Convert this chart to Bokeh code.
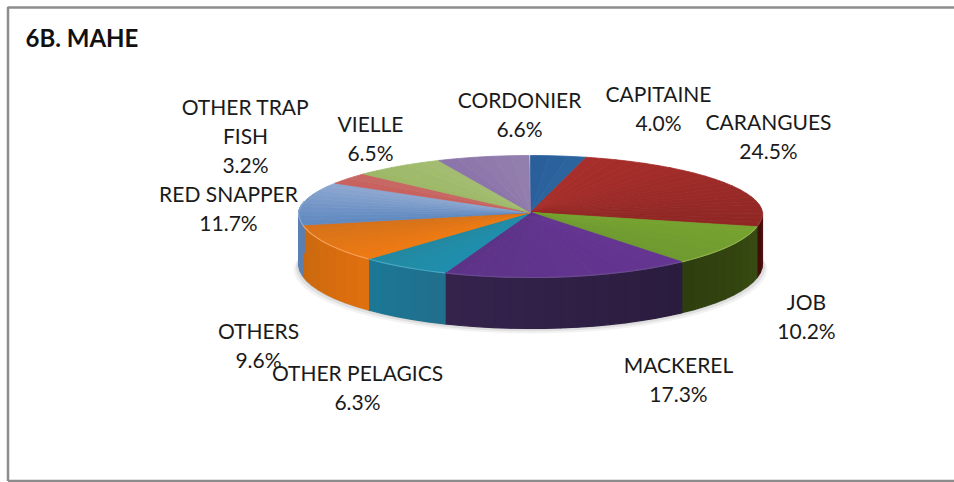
import math
from bokeh.plotting import figure
from bokeh.embed import file_html
from bokeh.resources import INLINE
from bokeh.models import ColumnDataSource, Range1d

# data
categories = ["CAPITAINE", "CARANGUES", "JOB", "MACKEREL", "OTHER PELAGICS",
              "OTHERS", "RED SNAPPER", "OTHER TRAP\nFISH", "VIELLE", "CORDONIER"]
shares = [4.0, 24.5, 10.2, 17.3, 6.3, 9.6, 11.7, 3.2, 6.5, 6.6]
title_text = "6B. MAHE"

# style
top_a = ["#2a5e9c", "#a82e2a", "#76a32f", "#653592", "#1f8fae", "#ef7a12", "#5f88c0", "#c9605c", "#9cb866", "#8b74aa"]
top_b = ["#2c659f", "#8f2725", "#6f9a30", "#5d3388", "#23889f", "#d5721a", "#8ea8d0", "#c66a66", "#a4bd72", "#9480ae"]
side_a = ["#1f4a7a", "#5a1512", "#384c12", "#2a1c3e", "#1f6e8c", "#e0700f", "#5c7fb2", "#a04a48", "#7d9550", "#6e5c8a"]
side_b = ["#1f4a7a", "#3c0d0a", "#2e3d0e", "#35234d", "#1b7896", "#c9680f", "#5c7fb2", "#a04a48", "#7d9550", "#6e5c8a"]
rim = ["#2c659f", "#a03a36", "#8fb24e", "#6b4a90", "#49a6c0", "#f4a05a", "#8ea8d0", "#c66a66", "#a4bd72", "#9480ae"]
label_x = [658, 768, 806, 678, 357, 258, 228, 245, 370, 519]
label_y = [93, 121, 301, 364, 372, 330, 193, 106, 123, 99]
LINE_GAP = 29

CX, CY, RX, RY_BACK, RY_FRONT, DEPTH = 530, 212, 232, 57, 65, 51
FONT = "Lato"
FS = "21px"


def pt(deg):
    a = math.radians(deg)
    s, c = math.sin(a), math.cos(a)
    narrow = 1 - 0.035 * max(c, 0)
    return CX + RX * s * narrow, CY - (RY_BACK if c > 0 else RY_FRONT) * c


def mix(c1, c2, t):
    v1 = [int(c1[i:i + 2], 16) for i in (1, 3, 5)]
    v2 = [int(c2[i:i + 2], 16) for i in (1, 3, 5)]
    return "#%02x%02x%02x" % tuple(round(a + (b - a) * t) for a, b in zip(v1, v2))


p = figure(width=954, height=482, x_range=Range1d(0, 954), y_range=Range1d(482, 0),
           output_backend="svg", toolbar_location=None, min_border=0,
           background_fill_color="white", border_fill_color="white", outline_line_color=None)
p.xaxis.visible = False
p.yaxis.visible = False
p.grid.visible = False

# chart frame
p.line([7.5, 7.5, 960], [480.5, 7, 7], line_color="#8c8c8c", line_width=2.5)
p.line([7.5, 960], [480.5, 480.5], line_color="#8c8c8c", line_width=2.5)

# soft shadow beneath the disc
for grow, alpha in ((5, 0.05), (3, 0.07), (1, 0.09)):
    xs, ys = [], []
    for d in range(40, 321, 4):
        x, y = pt(d)
        xs.append(CX + (x - CX) * (RX + grow) / RX)
        ys.append(y + DEPTH + grow)
    xs.reverse(); ys.reverse()
    p.patch(xs, ys, fill_color="#000000", fill_alpha=alpha, line_color=None)

# build slices from shares
edges = [0.0]
for v in shares:
    edges.append(edges[-1] + v * 3.6)

# side wall (only the front half is visible)
sx, sy, sc = [], [], []
for i in range(len(shares)):
    a0, a1 = edges[i], edges[i + 1]
    lo, hi = max(a0, 90), min(a1, 281)
    if hi <= lo:
        continue
    n = max(1, int((hi - lo) / 4))
    for k in range(n):
        d0 = lo + (hi - lo) * k / n
        d1 = lo + (hi - lo) * (k + 1) / n
        x0, y0 = pt(d0)
        x1, y1 = pt(d1)
        sx.append([x0, x1, x1, x0])
        sy.append([y0, y1, y1 + DEPTH, y0 + DEPTH])
        sc.append(mix(side_a[i], side_b[i], (k + 0.5) / n))
p.patches("x", "y", source=ColumnDataSource(dict(x=sx, y=sy, c=sc)),
          fill_color="c", line_color="c", line_width=1.2)

# top face, shaded fan by fan
tx, ty, tc = [], [], []
for i in range(len(shares)):
    a0, a1 = edges[i], edges[i + 1]
    n = max(2, int((a1 - a0) / 4))
    for k in range(n):
        d0 = a0 + (a1 - a0) * k / n
        d1 = a0 + (a1 - a0) * (k + 1) / n
        x0, y0 = pt(d0)
        xm, ym = pt((d0 + d1) / 2)
        x1, y1 = pt(d1)
        tx.append([CX, x0, xm, x1])
        ty.append([CY, y0, ym, y1])
        tc.append(mix(top_a[i], top_b[i], (k + 0.5) / n))
p.patches("x", "y", source=ColumnDataSource(dict(x=tx, y=ty, c=tc)),
          fill_color="c", line_color="c", line_width=0.8)

# light rim along the front edge
for i in range(len(shares)):
    lo, hi = max(edges[i], 90), min(edges[i + 1], 281)
    if hi <= lo:
        continue
    pts = [pt(lo + (hi - lo) * k / 12) for k in range(13)]
    p.line([q[0] for q in pts], [q[1] for q in pts], line_color=rim[i], line_width=1.2)

# labels
lx, ly, lt = [], [], []
for name, share, x, y in zip(categories, shares, label_x, label_y):
    lines = name.split("\n") + ["%.1f%%" % share]
    for j, t in enumerate(lines):
        lx.append(x); ly.append(y + j * LINE_GAP); lt.append(t)
p.text(lx, ly, text=lt, text_font={"value": FONT}, text_font_size=FS, text_color="#1a1a1a",
       text_align="center", text_baseline="middle")
p.text([25], [37], text=[title_text], text_font={"value": "Lato"}, text_font_size="24px",
       text_font_style="bold", text_color="#111111", text_align="left", text_baseline="middle")

open("out.html", "w").write(file_html(p, INLINE))
